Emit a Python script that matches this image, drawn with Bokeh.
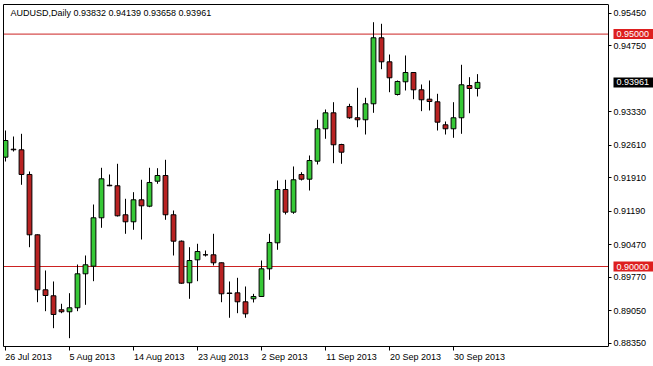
from bokeh.plotting import figure
from bokeh.models import (Range1d, FixedTicker, Label, ColumnDataSource,
                          PrintfTickFormatter, LinearAxis)
from bokeh.embed import file_html
from bokeh.resources import INLINE

symbol = "AUDUSD,Daily"

dates = ["26 Jul 2013", "28 Jul 2013", "29 Jul 2013", "30 Jul 2013", "31 Jul 2013", "1 Aug 2013",
         "2 Aug 2013", "4 Aug 2013", "5 Aug 2013", "6 Aug 2013", "7 Aug 2013", "8 Aug 2013",
         "9 Aug 2013", "11 Aug 2013", "12 Aug 2013", "13 Aug 2013", "14 Aug 2013", "15 Aug 2013",
         "16 Aug 2013", "18 Aug 2013", "19 Aug 2013", "20 Aug 2013", "21 Aug 2013", "22 Aug 2013",
         "23 Aug 2013", "25 Aug 2013", "26 Aug 2013", "27 Aug 2013", "28 Aug 2013", "29 Aug 2013",
         "30 Aug 2013", "1 Sep 2013", "2 Sep 2013", "3 Sep 2013", "4 Sep 2013", "5 Sep 2013",
         "6 Sep 2013", "8 Sep 2013", "9 Sep 2013", "10 Sep 2013", "11 Sep 2013", "12 Sep 2013",
         "13 Sep 2013", "15 Sep 2013", "16 Sep 2013", "17 Sep 2013", "18 Sep 2013", "19 Sep 2013",
         "20 Sep 2013", "22 Sep 2013", "23 Sep 2013", "24 Sep 2013", "25 Sep 2013", "26 Sep 2013",
         "27 Sep 2013", "29 Sep 2013", "30 Sep 2013", "1 Oct 2013", "2 Oct 2013", "3 Oct 2013"]

opens = [0.92352, 0.92524, 0.92511, 0.91980, 0.90682, 0.89499, 0.89370, 0.89069, 0.89026, 0.89112,
         0.89843, 0.90007, 0.91048, 0.91749, 0.91737, 0.91113, 0.90962, 0.91435, 0.91298, 0.91835,
         0.91958, 0.91113, 0.90545, 0.89650, 0.90144, 0.90252, 0.90252, 0.90080, 0.89430, 0.89434,
         0.89241, 0.89305, 0.89355, 0.89951, 0.90510, 0.91657, 0.91169, 0.91980, 0.91879, 0.92266,
         0.92963, 0.93307, 0.92625, 0.93443, 0.93200, 0.93157, 0.93501, 0.94921, 0.94404, 0.93701,
         0.93974, 0.94174, 0.93802, 0.93600, 0.93544, 0.93049, 0.92963, 0.93200, 0.93894, 0.93832]

highs = [0.92926, 0.92797, 0.92855, 0.92044, 0.90690, 0.89914, 0.89678, 0.89198, 0.89426, 0.90043,
         0.90237, 0.91334, 0.92124, 0.91980, 0.92210, 0.91457, 0.91599, 0.91866, 0.92124, 0.92115,
         0.92296, 0.91205, 0.90560, 0.90415, 0.90489, 0.90344, 0.90704, 0.90086, 0.89678, 0.89757,
         0.89570, 0.89412, 0.90129, 0.90704, 0.91851, 0.91866, 0.92152, 0.92029, 0.92388, 0.93157,
         0.93378, 0.93535, 0.92640, 0.93501, 0.93845, 0.93630, 0.95256, 0.95222, 0.94561, 0.94002,
         0.94540, 0.94175, 0.93916, 0.94002, 0.93716, 0.93120, 0.93535, 0.94340, 0.94073, 0.94139]

lows = [0.92259, 0.92474, 0.91758, 0.90415, 0.89232, 0.89039, 0.88673, 0.88996, 0.88458, 0.89039,
        0.89176, 0.89684, 0.90833, 0.91728, 0.91076, 0.90704, 0.90790, 0.90581, 0.91276, 0.91780,
        0.91005, 0.90237, 0.89628, 0.89305, 0.89684, 0.90215, 0.90022, 0.89232, 0.88897, 0.88996,
        0.88897, 0.89226, 0.89350, 0.89714, 0.90360, 0.91119, 0.91134, 0.91851, 0.91635, 0.92195,
        0.92748, 0.92223, 0.92210, 0.93178, 0.92997, 0.92840, 0.93307, 0.94245, 0.93750, 0.93679,
        0.93787, 0.93600, 0.93342, 0.93357, 0.92926, 0.92840, 0.92769, 0.92855, 0.93298, 0.93658]

closes = [0.92711, 0.92511, 0.91980, 0.90682, 0.89499, 0.89376, 0.88968, 0.89026, 0.89112, 0.89843,
          0.90037, 0.91048, 0.91887, 0.91737, 0.91091, 0.90962, 0.91435, 0.91306, 0.91808, 0.91958,
          0.91113, 0.90545, 0.89641, 0.90129, 0.90323, 0.90250, 0.90080, 0.89413, 0.89419, 0.89241,
          0.88982, 0.89355, 0.89951, 0.90517, 0.91657, 0.91169, 0.91866, 0.91879, 0.92281, 0.92963,
          0.93307, 0.92619, 0.92459, 0.93200, 0.93157, 0.93501, 0.94921, 0.94404, 0.94060, 0.93981,
          0.94174, 0.93802, 0.93587, 0.93550, 0.93105, 0.92963, 0.93200, 0.93910, 0.93830, 0.93961]

y_ticks = [0.95450, 0.94750, 0.93330, 0.92610, 0.91910, 0.91190, 0.90470, 0.89770, 0.89050, 0.88350]
x_tick_labels = ["26 Jul 2013", "5 Aug 2013", "14 Aug 2013", "23 Aug 2013",
                 "2 Sep 2013", "11 Sep 2013", "20 Sep 2013", "30 Sep 2013"]
levels = [0.95000, 0.90000]

FONT = "Liberation Sans"
FSPX = 9
FS = "%dpx" % FSPX
BULL = "#36c836"
BEAR = "#b82222"
LEVEL = "#cc2222"
PX_PER_BAR = 8.0

# chart window geometry (in bar units): chart area from X0 to the price scale at X_AXIS
X0 = -0.25
X_AXIS = 75.375
X_END = X0 + 650 / PX_PER_BAR
Y0, Y1 = 0.88279, 0.95637

CHAR_W = {" ": 0.278, "J": 0.5, "A": 0.667, "S": 0.667, "O": 0.778, "u": 0.556, "l": 0.222,
          "g": 0.556, "e": 0.556, "p": 0.556, "c": 0.5, "t": 0.278}


def text_w(s):
    return sum(CHAR_W.get(ch, 0.556) for ch in s) * FSPX


idx = list(range(len(dates)))
src = ColumnDataSource(dict(
    x=idx,
    high=highs,
    low=lows,
    top=[max(o, c) for o, c in zip(opens, closes)],
    bottom=[min(o, c) for o, c in zip(opens, closes)],
    color=[BULL if c >= o else BEAR for o, c in zip(opens, closes)],
))

p = figure(width=653, height=366, output_backend="svg", toolbar_location=None,
           x_range=Range1d(X0, X_END), y_range=Range1d(Y0, Y1),
           x_axis_location=None, y_axis_location=None,
           min_border_left=3, min_border_top=4, min_border_right=0, min_border_bottom=20,
           background_fill_color="white", border_fill_color="white")

p.xgrid.visible = False
p.ygrid.visible = False
p.outline_line_color = None


def frame_axis(**kw):
    return LinearAxis(ticker=FixedTicker(ticks=[]), axis_line_color="black", axis_line_width=1,
                      major_tick_out=0, major_tick_in=0, minor_tick_out=0, minor_tick_in=0,
                      major_label_text_font_size="0px", major_label_standoff=0, **kw)


# chart-area border: left and top edges
p.add_layout(frame_axis(), "left")
p.add_layout(frame_axis(bounds=(X0, X_AXIS)), "above")

# horizontal levels
p.segment(x0=[X0] * len(levels), x1=[X_AXIS] * len(levels), y0=levels, y1=levels,
          line_color=LEVEL, line_width=1)

# candles
p.segment(x0="x", y0="low", x1="x", y1="high", source=src, line_color="black", line_width=1)
p.vbar(x="x", width=0.6, top="top", bottom="bottom", source=src,
       fill_color="color", line_color="black", line_width=1)

# price scale on the right edge of the chart area
ya = LinearAxis(fixed_location=X_AXIS, ticker=FixedTicker(ticks=y_ticks),
                formatter=PrintfTickFormatter(format="%.5f"),
                axis_line_color="black", axis_line_width=1,
                major_tick_out=3, major_tick_in=0, minor_tick_out=0, minor_tick_in=0,
                major_label_standoff=2, major_label_text_font=FONT,
                major_label_text_font_size=FS, major_label_text_color="black")
p.add_layout(ya, "right")

# date scale: tick marks + bottom border
tick_idx = [dates.index(t) for t in x_tick_labels]
xa = LinearAxis(ticker=FixedTicker(ticks=tick_idx), bounds=(X0, X_AXIS),
                major_label_overrides={i: "" for i in tick_idx},
                major_label_text_font_size="0px", major_label_standoff=0,
                axis_line_color="black", axis_line_width=1,
                major_tick_out=4, major_tick_in=0, minor_tick_out=0, minor_tick_in=0)
p.add_layout(xa, "below")

# date labels whose left edge sits on the tick (MetaTrader style)
lab_pos = [i + round(text_w(t) / 2.0) / PX_PER_BAR for i, t in zip(tick_idx, x_tick_labels)]
xb = LinearAxis(ticker=FixedTicker(ticks=lab_pos),
                major_label_overrides={pos: t for pos, t in zip(lab_pos, x_tick_labels)},
                axis_line_color=None, major_tick_out=0, major_tick_in=0,
                minor_tick_out=0, minor_tick_in=0, major_label_standoff=1,
                major_label_text_font=FONT, major_label_text_font_size=FS,
                major_label_text_color="black")
p.add_layout(xb, "below")

# header text
last = len(dates) - 1
header = "%s  %.5f %.5f %.5f %.5f" % (symbol, opens[last], highs[last], lows[last], closes[last])
p.add_layout(Label(x=0.625, y=0.95453, text=header, text_font=FONT, text_font_size=FS,
                   text_baseline="middle", text_align="left", text_color="black"))

# highlighted prices on the price scale
PAD = dict(left=3, right=4, top=2, bottom=2)
for lv in levels:
    p.add_layout(Label(x=X_AXIS, x_offset=5, y=lv, text="%.5f" % lv, text_font=FONT,
                       level="overlay", text_font_size=FS, text_baseline="middle",
                       text_align="left", text_color="white",
                       background_fill_color="#dd1f1f", padding=PAD))
p.add_layout(Label(x=X_AXIS, x_offset=5, y=closes[last], text="%.5f" % closes[last],
                   level="overlay", text_font=FONT, text_font_size=FS, text_baseline="middle",
                   text_align="left", text_color="white", background_fill_color="black",
                   padding=PAD))

open("out.html", "w").write(file_html(p, INLINE))
